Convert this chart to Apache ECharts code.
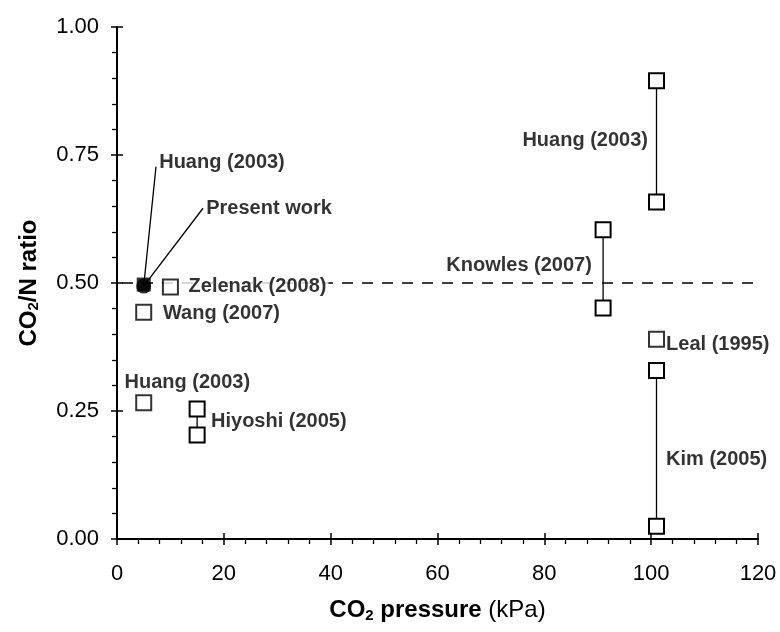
<!DOCTYPE html>
<html><head><meta charset="utf-8">
<script src="https://cdn.jsdelivr.net/npm/echarts@6/dist/echarts.min.js"></script>
<style>html,body{margin:0;padding:0;background:#fff}#c{width:780px;height:632px}</style>
</head><body><div id="c"></div>
<script>
// ---- axes ----
const xMin = 0, xMax = 120, xStep = 20;
const yMin = 0, yMax = 1, yStep = 0.25;
const referenceRatio = 0.5;

// ---- data: [CO2 pressure (kPa), CO2/N ratio] ----
const huang2003a = [[5, 0.497]];            // hidden under present work
const presentWork = [[5, 0.494]];
const zelenak2008 = [[10, 0.492]];
const wang2007 = [[5, 0.443]];
const huang2003b = [[5, 0.266]];
const hiyoshi2005 = [[15, 0.254], [15, 0.203]];
const knowles2007 = [[91, 0.604], [91, 0.451]];
const huang2003c = [[101, 0.895], [101, 0.658]];
const leal1995 = [[101, 0.390]];
const kim2005 = [[101, 0.329], [101, 0.025]];

const FONT = '"Liberation Sans", Arial, sans-serif';
const openSquare = {
  symbol: 'rect', symbolSize: 15,
  itemStyle: { color: '#fff', borderColor: '#000', borderWidth: 2 },
  lineStyle: { color: '#000', width: 1.3 },
  emphasis: { disabled: true }, silent: true, animation: false
};
function pair(name, data) {
  return Object.assign({ type: 'line', name, data, z: 3 }, openSquare);
}
function single(name, data) {
  return Object.assign({ type: 'scatter', name, data, z: 3 }, openSquare);
}

// annotation anchors (data coords)
const annotations = [
  { text: 'Huang (2003)', at: [7.9, 0.736], pos: 'right' },
  { text: 'Present work', at: [16.7, 0.646], pos: 'right' },
  { text: 'Zelenak (2008)', at: [11.9, 0.494], pos: 'right', bg: true },
  { text: 'Wang (2007)', at: [8.6, 0.441], pos: 'right' },
  { text: 'Huang (2003)', at: [1.4, 0.305], pos: 'right' },
  { text: 'Hiyoshi (2005)', at: [17.6, 0.229], pos: 'right' },
  { text: 'Huang (2003)', at: [99.4, 0.779], pos: 'left' },
  { text: 'Knowles (2007)', at: [88.9, 0.535], pos: 'left' },
  { text: 'Leal (1995)', at: [102.8, 0.379], pos: 'right' },
  { text: 'Kim (2005)', at: [102.8, 0.156], pos: 'right' }
];

const axisCommon = {
  axisLine: { show: true, lineStyle: { color: '#000', width: 2 } },
  splitLine: { show: false },
  minorSplitLine: { show: false }
};

const option = {
  backgroundColor: '#fff',
  animation: false,
  grid: { left: 117, right: 22, top: 27, bottom: 93, containLabel: false },
  xAxis: [
    Object.assign({
      type: 'value', min: xMin, max: xMax, interval: xStep, position: 'bottom',
      axisTick: { show: true, length: 6, lineStyle: { color: '#000', width: 1.5 } },
      minorTick: { show: true, splitNumber: 5, length: 5, lineStyle: { color: '#000', width: 1.3 } },
      axisLabel: { color: '#000', fontSize: 22, fontFamily: FONT, margin: 24 },
      name: '{b|CO}{s|2}{b| pressure }{r|(kPa)}',
      nameLocation: 'middle', nameGap: 59,
      nameTextStyle: { color: '#000', fontFamily: FONT, rich: {
        b: { fontSize: 24, fontWeight: 'bold', fontFamily: FONT, color: '#000' },
        s: { fontSize: 15, fontWeight: 'bold', fontFamily: FONT, color: '#000', padding: [10, 0, 0, 0] },
        r: { fontSize: 24, fontFamily: FONT, color: '#000' } } }
    }, axisCommon),
    {
      type: 'value', min: xMin, max: xMax, interval: xStep, position: 'bottom', offset: 0,
      axisLine: { show: false }, splitLine: { show: false }, axisLabel: { show: false },
      axisTick: { show: true, inside: true, length: 6, lineStyle: { color: '#000', width: 1.5 } }
    }
  ],
  yAxis: [
    Object.assign({
      type: 'value', min: yMin, max: yMax, interval: yStep, position: 'left',
      axisTick: { show: true, length: 6, lineStyle: { color: '#000', width: 1.5 } },
      minorTick: { show: true, splitNumber: 5, length: 5, lineStyle: { color: '#000', width: 1.3 } },
      axisLabel: { color: '#000', fontSize: 22, fontFamily: FONT, margin: 18,
        formatter: v => v.toFixed(2) },
      name: '{b|CO}{s|2}{b|/N ratio}',
      nameLocation: 'middle', nameGap: 76, nameRotate: 90,
      nameTextStyle: { color: '#000', fontFamily: FONT, rich: {
        b: { fontSize: 24, fontWeight: 'bold', fontFamily: FONT, color: '#000' },
        s: { fontSize: 15, fontWeight: 'bold', fontFamily: FONT, color: '#000', padding: [9, 0, 0, 0] } } }
    }, axisCommon),
    {
      type: 'value', min: yMin, max: yMax, interval: yStep, position: 'left', offset: 0,
      axisLine: { show: false }, splitLine: { show: false }, axisLabel: { show: false },
      axisTick: { show: true, inside: true, length: 6, lineStyle: { color: '#000', width: 1.5 } }
    }
  ],
  series: [
    {
      type: 'line', name: 'reference', data: [[xMin, referenceRatio], [xMax, referenceRatio]],
      symbol: 'none', z: 1, silent: true,
      lineStyle: { color: '#000', width: 1.5, type: [11, 9], dashOffset: 15 }
    },
    pair('Hiyoshi (2005)', hiyoshi2005),
    pair('Knowles (2007)', knowles2007),
    pair('Huang (2003)', huang2003c),
    pair('Kim (2005)', kim2005),
    single('Zelenak (2008)', zelenak2008),
    single('Wang (2007)', wang2007),
    single('Huang (2003)', huang2003b),
    single('Leal (1995)', leal1995),
    {
      type: 'scatter', name: 'Huang (2003) 5kPa', data: huang2003a, symbol: 'rect', symbolSize: 14,
      itemStyle: { color: '#000' }, z: 4, silent: true
    },
    {
      type: 'scatter', name: 'Present work', data: presentWork, symbol: 'circle', symbolSize: 15,
      itemStyle: { color: '#000' }, z: 4, silent: true,
      markLine: {
        silent: true, symbol: 'none', label: { show: false }, animation: false,
        lineStyle: { color: '#000', width: 1.3, type: 'solid' },
        data: [
          [{ coord: presentWork[0] }, { coord: [7.3, 0.727] }],
          [{ coord: presentWork[0] }, { coord: [16.1, 0.646] }]
        ]
      }
    },
    {
      type: 'scatter', name: 'labels', symbolSize: 0, z: 10, silent: true,
      data: annotations.map(a => ({
        value: a.at,
        label: {
          show: true, position: a.pos, distance: 0, formatter: a.text,
          color: '#000', fontSize: 20, fontWeight: 'bold', fontFamily: FONT,
          backgroundColor: a.bg ? '#fff' : 'transparent', padding: a.bg ? [0, 2, 0, 8] : 0
        }
      }))
    }
  ]
};
const chart = echarts.init(document.getElementById('c'), null, { renderer: 'canvas' });
chart.setOption(option);
</script>
</body></html>
